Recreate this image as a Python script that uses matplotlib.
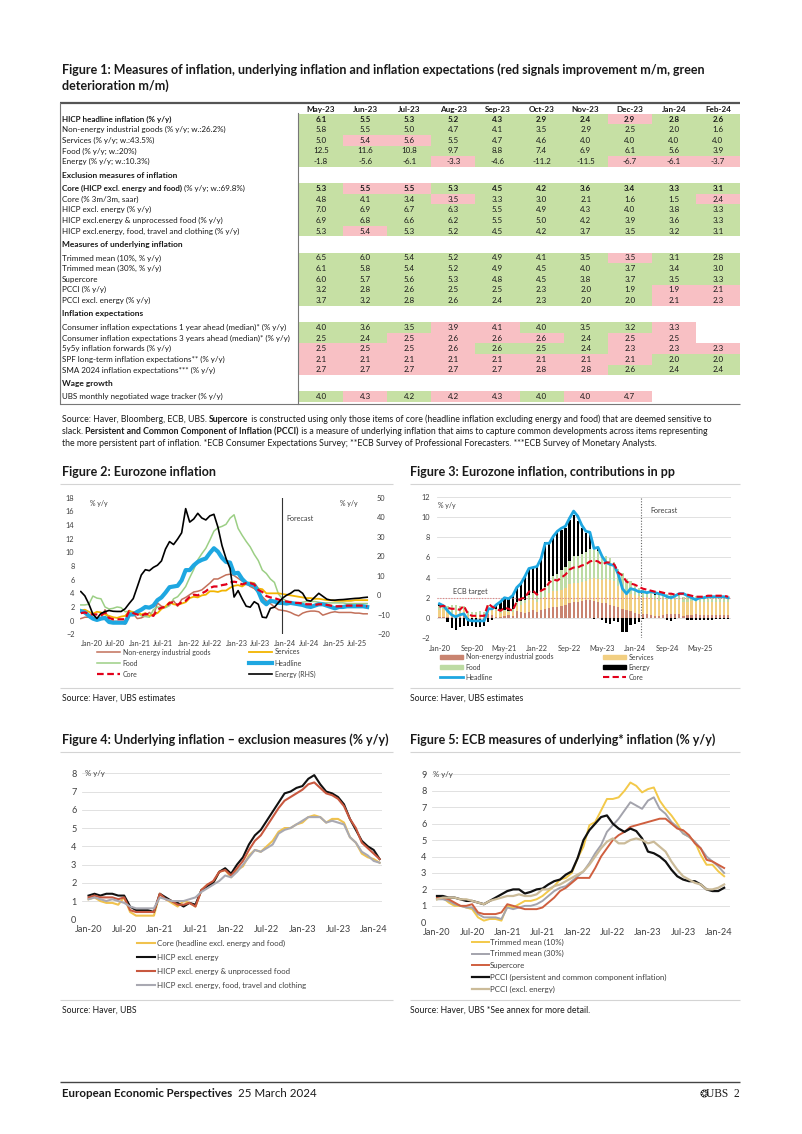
import numpy as np
import matplotlib
matplotlib.use("Agg")
import matplotlib.pyplot as plt
from matplotlib.patches import Rectangle, Patch

plt.rcParams['font.family'] = ['Lato', 'DejaVu Sans']

W, H = 802, 1134

# ---------------- Figure 1: table ----------------
tbl_months = ['May-23', 'Jun-23', 'Jul-23', 'Aug-23', 'Sep-23', 'Oct-23', 'Nov-23', 'Dec-23', 'Jan-24', 'Feb-24']

# (bold part, plain part); rows without values are section headers
tbl_labels = [
    ('HICP headline inflation (% y/y)', ''),
    ('', 'Non-energy industrial goods (% y/y; w.:26.2%)'),
    ('', 'Services (% y/y; w.:43.5%)'),
    ('', 'Food (% y/y; w.:20%)'),
    ('', 'Energy (% y/y; w.:10.3%)'),
    ('Exclusion measures of inflation', ''),
    ('Core (HICP excl. energy and food)', ' (% y/y; w.:69.8%)'),
    ('', 'Core (% 3m/3m, saar)'),
    ('', 'HICP excl. energy (% y/y)'),
    ('', 'HICP excl.energy & unprocessed food (% y/y)'),
    ('', 'HICP excl.energy, food, travel and clothing (% y/y)'),
    ('Measures of underlying inflation', ''),
    ('', 'Trimmed mean (10%, % y/y)'),
    ('', 'Trimmed mean (30%, % y/y)'),
    ('', 'Supercore'),
    ('', 'PCCI (% y/y)'),
    ('', 'PCCI excl. energy (% y/y)'),
    ('Inflation expectations', ''),
    ('', 'Consumer inflation expectations 1 year ahead (median)* (% y/y)'),
    ('', 'Consumer inflation expectations 3 years ahead (median)* (% y/y)'),
    ('', '5y5y inflation forwards (% y/y)'),
    ('', 'SPF long-term inflation expectations** (% y/y)'),
    ('', 'SMA 2024 inflation expectations*** (% y/y)'),
    ('Wage growth', ''),
    ('', 'UBS monthly negotiated wage tracker (% y/y)'),
]

tbl_values = [
    [6.1, 5.5, 5.3, 5.2, 4.3, 2.9, 2.4, 2.9, 2.8, 2.6],
    [5.8, 5.5, 5.0, 4.7, 4.1, 3.5, 2.9, 2.5, 2.0, 1.6],
    [5.0, 5.4, 5.6, 5.5, 4.7, 4.6, 4.0, 4.0, 4.0, 4.0],
    [12.5, 11.6, 10.8, 9.7, 8.8, 7.4, 6.9, 6.1, 5.6, 3.9],
    [-1.8, -5.6, -6.1, -3.3, -4.6, -11.2, -11.5, -6.7, -6.1, -3.7],
    None,
    [5.3, 5.5, 5.5, 5.3, 4.5, 4.2, 3.6, 3.4, 3.3, 3.1],
    [4.8, 4.1, 3.4, 3.5, 3.3, 3.0, 2.1, 1.6, 1.5, 2.4],
    [7.0, 6.9, 6.7, 6.3, 5.5, 4.9, 4.3, 4.0, 3.8, 3.3],
    [6.9, 6.8, 6.6, 6.2, 5.5, 5.0, 4.2, 3.9, 3.6, 3.3],
    [5.3, 5.4, 5.3, 5.2, 4.5, 4.2, 3.7, 3.5, 3.2, 3.1],
    None,
    [6.5, 6.0, 5.4, 5.2, 4.9, 4.1, 3.5, 3.5, 3.1, 2.8],
    [6.1, 5.8, 5.4, 5.2, 4.9, 4.5, 4.0, 3.7, 3.4, 3.0],
    [6.0, 5.7, 5.6, 5.3, 4.8, 4.5, 3.8, 3.7, 3.5, 3.3],
    [3.2, 2.8, 2.6, 2.5, 2.5, 2.3, 2.0, 1.9, 1.9, 2.1],
    [3.7, 3.2, 2.8, 2.6, 2.4, 2.3, 2.0, 2.0, 2.1, 2.3],
    None,
    [4.0, 3.6, 3.5, 3.9, 4.1, 4.0, 3.5, 3.2, 3.3, None],
    [2.5, 2.4, 2.5, 2.6, 2.6, 2.6, 2.4, 2.5, 2.5, None],
    [2.5, 2.5, 2.5, 2.6, 2.6, 2.5, 2.4, 2.3, 2.3, 2.3],
    [2.1, 2.1, 2.1, 2.1, 2.1, 2.1, 2.1, 2.1, 2.0, 2.0],
    [2.7, 2.7, 2.7, 2.7, 2.7, 2.8, 2.8, 2.6, 2.4, 2.4],
    None,
    [4.0, 4.3, 4.2, 4.2, 4.3, 4.0, 4.0, 4.7, None, None],
]

# g = green (deterioration), r = red (improvement), - = no fill
tbl_signal = [
    'gggggggrgg', 'gggggggggg', 'grrggggggg', 'gggggggggg', 'gggrgggrrr', None,
    'grrggggggg', 'gggrgggggr', 'gggggggggg', 'gggggggggg', 'grgggggggg', None,
    'gggggggrgg', 'gggggggggg', 'gggggggggg', 'ggggggggrr', 'ggggggggrr', None,
    'gggrrgggr-', 'ggrrrrgrr-', 'rrrrgggrrr', 'rrrrrrrrgg', 'rrrrrrrggg', None,
    'grgrrgrr--',
]

# ---------------- Figure 2: Eurozone inflation, Jan-20 .. Dec-25 ----------------
f2_ticks = ['Jan-20', 'Jul-20', 'Jan-21', 'Jul-21', 'Jan-22', 'Jul-22', 'Jan-23', 'Jul-23',
            'Jan-24', 'Jul-24', 'Jan-25', 'Jul-25']
f2_neig = [0.3, 0.5, 0.5, 0.3, 0.2, 0.2, 1.6, 0.0, -0.1, -0.1, -0.3, -0.5,
           1.5, 1.0, 0.3, 0.4, 0.7, 1.2, 0.7, 2.6, 2.1, 2.0, 2.4, 2.9,
           2.1, 3.1, 3.4, 3.8, 4.2, 4.3, 4.5, 5.0, 5.5, 6.1, 6.1, 6.4,
           6.7, 6.8, 6.6, 6.2, 5.8, 5.5, 5.0, 4.7, 4.1, 3.5, 2.9, 2.5,
           2.0, 1.6, 1.5, 1.4, 1.2, 0.9, 0.7, 1.1, 1.3, 1.4, 1.4, 1.3,
           0.8, 1.0, 1.2, 1.3, 1.2, 1.2, 1.2, 1.2, 1.1, 1.1, 1.0, 1.0]
f2_services = [1.5, 1.6, 1.3, 1.0, 1.3, 1.2, 0.9, 0.7, 0.5, 0.4, 0.6, 0.7,
               1.4, 1.2, 1.3, 0.9, 1.1, 0.7, 0.9, 1.1, 1.7, 2.1, 2.7, 2.4,
               2.3, 2.5, 2.7, 3.3, 3.5, 3.4, 3.7, 3.8, 4.3, 4.3, 4.2, 4.4,
               4.4, 4.8, 5.1, 5.2, 5.0, 5.4, 5.6, 5.5, 4.7, 4.6, 4.0, 4.0,
               4.0, 4.0, 3.9, 3.8, 3.7, 3.6, 3.5, 3.4, 3.3, 3.3, 3.2, 3.2,
               3.1, 3.0, 3.0, 2.9, 2.9, 2.9, 2.9, 2.9, 3.0, 3.0, 3.0, 3.0]
f2_food = [2.3, 2.3, 2.4, 3.6, 3.3, 3.2, 2.0, 1.7, 1.8, 2.0, 1.9, 1.3,
           1.4, 1.3, 1.1, 0.7, 0.6, 0.5, 1.6, 2.0, 1.9, 1.9, 2.2, 3.2,
           3.5, 4.2, 5.0, 6.3, 7.5, 8.9, 9.8, 10.6, 11.8, 13.1, 13.6, 13.8,
           14.1, 15.0, 15.5, 13.5, 12.5, 11.6, 10.8, 9.7, 8.8, 7.4, 6.9, 6.1,
           5.6, 3.9, 3.2, 2.9, 2.7, 2.5, 2.6, 2.7, 2.8, 2.8, 2.8, 2.7,
           2.6, 2.6, 2.6, 2.6, 2.6, 2.6, 2.5, 2.5, 2.5, 2.5, 2.5, 2.5]
f2_headline = [1.4, 1.2, 0.7, 0.3, 0.1, 0.3, 0.4, -0.2, -0.3, -0.3, -0.3, -0.3,
               0.9, 0.9, 1.3, 1.6, 2.0, 1.9, 2.2, 3.0, 3.4, 4.1, 4.9, 5.0,
               5.1, 5.9, 7.4, 7.4, 8.1, 8.6, 8.9, 9.1, 9.9, 10.6, 10.1, 9.2,
               8.6, 8.5, 6.9, 7.0, 6.1, 5.5, 5.3, 5.2, 4.3, 2.9, 2.4, 2.9,
               2.8, 2.6, 2.6, 2.5, 2.6, 2.5, 2.4, 2.3, 2.1, 2.0, 2.2, 2.4,
               2.4, 2.2, 2.0, 1.8, 2.0, 2.0, 2.1, 2.1, 2.1, 2.1, 2.1, 2.0]
f2_core = [1.1, 1.2, 1.0, 0.9, 0.9, 0.8, 1.2, 0.4, 0.2, 0.2, 0.2, 0.2,
           1.4, 1.1, 0.9, 0.7, 1.0, 0.9, 0.7, 1.6, 1.9, 2.0, 2.6, 2.7,
           2.3, 2.7, 2.9, 3.5, 3.8, 3.7, 4.0, 4.3, 4.8, 5.0, 5.0, 5.2,
           5.3, 5.6, 5.7, 5.6, 5.3, 5.5, 5.5, 5.3, 4.5, 4.2, 3.6, 3.4,
           3.3, 3.1, 2.9, 2.8, 2.7, 2.6, 2.6, 2.5, 2.4, 2.4, 2.3, 2.4,
           2.4, 2.3, 2.2, 2.1, 2.1, 2.1, 2.2, 2.2, 2.2, 2.2, 2.2, 2.1]
f2_energy = [1.9, -0.3, -4.5, -9.7, -11.9, -9.3, -8.4, -7.8, -8.2, -8.3, -8.3, -6.9,
             -4.2, -1.7, 4.3, 10.4, 13.1, 12.6, 14.3, 15.4, 17.6, 23.7, 27.5, 26.0,
             28.8, 32.0, 44.4, 37.5, 39.1, 42.0, 39.6, 38.6, 40.7, 41.5, 34.9, 25.5,
             18.9, 13.7, -0.9, 2.4, -1.8, -5.6, -6.1, -3.3, -4.6, -11.2, -11.5, -6.7,
             -6.1, -3.7, -1.5, 0.0, 1.0, 2.5, 2.5, 1.0, -2.5, -3.0, -1.0, 1.0,
             -0.5, -2.0, -2.5, -2.5, -2.3, -2.2, -2.0, -1.8, -1.6, -1.5, -1.2, -1.0]

# ---------------- Figure 3: contributions in pp, Jan-20 .. Dec-25 ----------------
f3_ticks = ['Jan-20', 'Sep-20', 'May-21', 'Jan-22', 'Sep-22', 'May-23', 'Jan-24', 'Sep-24', 'May-25']
f3_neig = [0.08, 0.13, 0.13, 0.08, 0.05, 0.05, 0.42, 0.00, -0.03, -0.03, -0.08, -0.13,
           0.39, 0.26, 0.08, 0.10, 0.18, 0.31, 0.18, 0.68, 0.55, 0.52, 0.62, 0.75,
           0.55, 0.81, 0.88, 0.99, 1.09, 1.12, 1.17, 1.30, 1.43, 1.59, 1.59, 1.66,
           1.74, 1.77, 1.72, 1.61, 1.51, 1.43, 1.30, 1.22, 1.07, 0.91, 0.75, 0.65,
           0.52, 0.42, 0.39, 0.36, 0.31, 0.23, 0.18, 0.29, 0.34, 0.36, 0.36, 0.34,
           0.21, 0.26, 0.31, 0.34, 0.31, 0.31, 0.31, 0.31, 0.29, 0.29, 0.26, 0.26]
f3_services = [0.66, 0.70, 0.57, 0.44, 0.57, 0.53, 0.40, 0.31, 0.22, 0.18, 0.26, 0.31,
               0.62, 0.53, 0.57, 0.40, 0.48, 0.31, 0.40, 0.48, 0.75, 0.92, 1.19, 1.06,
               1.01, 1.10, 1.19, 1.45, 1.54, 1.50, 1.63, 1.67, 1.89, 1.89, 1.85, 1.94,
               1.94, 2.11, 2.24, 2.29, 2.20, 2.38, 2.46, 2.42, 2.07, 2.02, 1.76, 1.76,
               1.76, 1.76, 1.72, 1.67, 1.63, 1.58, 1.54, 1.50, 1.45, 1.45, 1.41, 1.41,
               1.36, 1.32, 1.32, 1.28, 1.28, 1.28, 1.28, 1.28, 1.32, 1.32, 1.32, 1.32]
f3_food = [0.46, 0.46, 0.48, 0.72, 0.66, 0.64, 0.40, 0.34, 0.36, 0.40, 0.38, 0.26,
           0.28, 0.26, 0.22, 0.14, 0.12, 0.10, 0.32, 0.40, 0.38, 0.38, 0.44, 0.64,
           0.70, 0.84, 1.00, 1.26, 1.50, 1.78, 1.96, 2.12, 2.36, 2.62, 2.72, 2.76,
           2.82, 3.00, 3.10, 2.70, 2.50, 2.32, 2.16, 1.94, 1.76, 1.48, 1.38, 1.22,
           1.12, 0.78, 0.64, 0.58, 0.54, 0.50, 0.52, 0.54, 0.56, 0.56, 0.56, 0.54,
           0.52, 0.52, 0.52, 0.52, 0.52, 0.52, 0.50, 0.50, 0.50, 0.50, 0.50, 0.50]
f3_energy = [0.19, -0.03, -0.45, -0.97, -1.19, -0.93, -0.84, -0.78, -0.82, -0.83, -0.83, -0.69,
             -0.42, -0.17, 0.43, 1.04, 1.31, 1.26, 1.43, 1.54, 1.76, 2.37, 2.75, 2.60,
             2.88, 3.20, 4.44, 3.75, 3.91, 4.20, 3.96, 3.86, 4.07, 4.15, 3.49, 2.55,
             1.89, 1.37, -0.09, 0.24, -0.18, -0.56, -0.61, -0.33, -0.46, -1.40, -1.40, -0.67,
             -0.61, -0.37, -0.15, 0.00, 0.10, 0.25, 0.25, 0.10, -0.25, -0.30, -0.10, 0.10,
             -0.05, -0.20, -0.25, -0.25, -0.23, -0.22, -0.20, -0.18, -0.16, -0.15, -0.12, -0.10]

# ---------------- Figure 4: exclusion measures, Jan-20 .. Feb-24 ----------------
f45_ticks = ['Jan-20', 'Jul-20', 'Jan-21', 'Jul-21', 'Jan-22', 'Jul-22', 'Jan-23', 'Jul-23', 'Jan-24']
f4_core = f2_core[:50]
f4_excl_energy = [1.3, 1.4, 1.3, 1.4, 1.4, 1.3, 1.3, 0.7, 0.5, 0.5, 0.5, 0.4,
                  1.4, 1.2, 1.0, 0.9, 0.7, 0.9, 0.8, 1.6, 1.8, 2.0, 2.6, 2.8,
                  2.5, 3.0, 3.4, 4.1, 4.6, 4.9, 5.4, 5.9, 6.4, 6.9, 7.0, 7.2,
                  7.3, 7.7, 7.9, 7.4, 7.0, 6.9, 6.7, 6.3, 5.5, 4.9, 4.3, 4.0,
                  3.8, 3.3]
f4_excl_unproc = [1.2, 1.3, 1.2, 1.2, 1.2, 1.1, 1.2, 0.5, 0.4, 0.4, 0.4, 0.4,
                  1.4, 1.1, 1.0, 0.8, 0.8, 0.9, 0.7, 1.6, 1.9, 2.1, 2.6, 2.7,
                  2.4, 2.8, 3.2, 3.8, 4.3, 4.6, 5.1, 5.6, 6.1, 6.5, 6.7, 6.9,
                  7.1, 7.4, 7.5, 7.2, 6.9, 6.8, 6.6, 6.2, 5.5, 5.0, 4.2, 3.9,
                  3.6, 3.3]
f4_excl_travel = [1.1, 1.2, 1.1, 1.0, 1.1, 1.0, 0.9, 0.7, 0.6, 0.6, 0.6, 0.6,
                  1.2, 1.1, 1.0, 1.0, 1.0, 1.1, 1.2, 1.5, 1.7, 1.9, 2.1, 2.4,
                  2.3, 2.6, 3.0, 3.4, 3.8, 3.7, 3.9, 4.1, 4.7, 4.9, 5.0, 5.2,
                  5.4, 5.6, 5.6, 5.6, 5.3, 5.4, 5.3, 5.2, 4.5, 4.2, 3.7, 3.5,
                  3.2, 3.1]

# ---------------- Figure 5: ECB underlying measures, Jan-20 .. Feb-24 ----------------
f5_trim10 = [1.4, 1.5, 1.2, 1.0, 1.0, 0.9, 0.8, 0.3, 0.1, 0.2, 0.2, 0.1,
             1.0, 0.9, 1.1, 1.3, 1.3, 1.4, 1.6, 1.9, 2.2, 2.6, 2.7, 3.0,
             3.9, 4.6, 5.9, 6.1, 6.8, 7.5, 7.5, 7.6, 8.0, 8.5, 8.3, 7.9,
             8.1, 8.2, 7.4, 6.9, 6.5, 6.0, 5.4, 5.2, 4.9, 4.1, 3.5, 3.5,
             3.1, 2.8]
f5_trim30 = [1.4, 1.4, 1.3, 1.1, 1.0, 0.9, 0.9, 0.5, 0.3, 0.3, 0.3, 0.2,
             0.9, 0.8, 0.9, 1.0, 1.0, 1.1, 1.3, 1.6, 1.9, 2.1, 2.2, 2.5,
             2.8, 3.1, 3.6, 4.2, 4.7, 5.5, 5.9, 6.3, 6.8, 7.3, 7.1, 6.9,
             7.4, 7.6, 6.9, 6.6, 6.1, 5.8, 5.4, 5.2, 4.9, 4.5, 4.0, 3.7,
             3.4, 3.0]
f5_supercore = [1.5, 1.5, 1.4, 1.2, 1.0, 1.0, 1.1, 0.6, 0.5, 0.5, 0.5, 0.6,
                1.1, 1.0, 0.9, 0.8, 0.8, 0.8, 0.9, 1.2, 1.5, 1.9, 2.1, 2.4,
                2.7, 2.7, 2.7, 3.3, 4.0, 4.5, 5.0, 5.3, 5.5, 5.8, 5.9, 6.0,
                6.1, 6.2, 6.3, 6.3, 6.0, 5.7, 5.6, 5.3, 4.8, 4.5, 3.8, 3.7,
                3.5, 3.3]
f5_pcci = [1.6, 1.6, 1.5, 1.5, 1.4, 1.3, 1.3, 1.2, 1.1, 1.3, 1.5, 1.7,
           1.9, 2.0, 2.0, 1.75, 1.85, 2.0, 2.05, 2.3, 2.5, 2.6, 2.9, 3.1,
           3.9, 5.0, 5.6, 6.0, 6.4, 6.5, 6.0, 5.7, 5.5, 5.7, 5.55, 5.1,
           4.3, 4.2, 4.0, 3.7, 3.2, 2.8, 2.6, 2.5, 2.5, 2.3, 2.0, 1.9,
           1.9, 2.1]
f5_pcci_xe = [1.4, 1.5, 1.5, 1.5, 1.4, 1.4, 1.3, 1.2, 1.1, 1.3, 1.4, 1.5,
              1.6, 1.6, 1.7, 1.6, 1.6, 1.7, 2.0, 2.0, 2.2, 2.3, 2.5, 2.7,
              2.9, 3.1, 3.5, 4.0, 4.5, 4.9, 5.1, 4.8, 4.8, 5.0, 5.1, 5.0,
              4.8, 4.9, 4.6, 4.3, 3.7, 3.2, 2.8, 2.6, 2.4, 2.3, 2.0, 2.0,
              2.1, 2.3]

GREEN, RED = '#c6e0a4', '#f8c0c4'
TXT = '#1a1a1a'
TICK = '#404040'


def frac(l, t, r, b):
    return [l / W, 1 - b / H, (r - l) / W, (b - t) / H]


fig = plt.figure(figsize=(W / 100, H / 100), dpi=100)
page = fig.add_axes([0, 0, 1, 1])
page.set_xlim(0, W)
page.set_ylim(H, 0)
page.axis('off')


def rich(x, y, parts, size, **kw):
    # chain text segments (text, bold) on one line
    prev = None
    for s, b in parts:
        if not s:
            continue
        w = 'bold' if b else 'normal'
        if prev is None:
            prev = page.text(x, y, s, fontsize=size, fontweight=w, color=TXT,
                             va='bottom', ha='left', **kw)
        else:
            prev = page.annotate(s, xy=(1, 0), xycoords=prev, fontsize=size, fontweight=w,
                                 color=TXT, va='bottom', ha='left', **kw)
    return prev


def hline(y, x0, x1, color='#d4d4d4', lw=0.8):
    page.plot([x0, x1], [y, y], color=color, lw=lw, solid_capstyle='butt')


# ----- Figure 1 title -----
page.text(62, 70, 'Figure 1: Measures of inflation, underlying inflation and inflation expectations '
          '(red signals improvement m/m, green', fontsize=9.0, fontweight='bold', color=TXT, va='center')
page.text(62, 86, 'deterioration m/m)', fontsize=9.0, fontweight='bold', color=TXT, va='center')

# ----- table -----
x0, cw = 299.0, 44.1
row_h, sec_h = 10.65, 16.2
hline(103, 60, 740, color='#555555', lw=1.6)
for j, mth in enumerate(tbl_months):
    page.text(x0 + (j + 0.5) * cw, 109.5, mth, fontsize=5.9, fontweight='bold',
              color=TXT, ha='center', va='center')

y = 113.7
for lab, vals, sig in zip(tbl_labels, tbl_values, tbl_signal):
    if vals is None:
        yc = y + sec_h / 2
        page.text(62, yc, lab[0], fontsize=6.0, fontweight='bold', color=TXT, va='center')
        y += sec_h
        continue
    yc = y + row_h / 2
    for j, v in enumerate(vals):
        c = {'g': GREEN, 'r': RED}.get(sig[j])
        if c:
            page.add_patch(Rectangle((x0 + j * cw, y), cw, row_h, facecolor=c, edgecolor='none'))
        if v is not None:
            page.text(x0 + (j + 0.5) * cw, yc, f'{v:.1f}', fontsize=5.8,
                      fontweight='bold' if lab[0] else 'normal', color=TXT, ha='center', va='center')
    parts = [(lab[0], True), (lab[1], False)]
    rich(62, yc + 3.6, parts, 5.8)
    y += row_h

page.plot([60, 60], [103, y + 1.5], color='#777777', lw=0.8)
page.plot([298, 298], [113, y + 1.5], color='#777777', lw=0.8)
hline(y + 1.5, 60, 740, color='#777777', lw=0.8)

# ----- source note -----
note_lines = [
    [('Source: Haver, Bloomberg, ECB, UBS. ', False), ('Supercore', True),
     (' is constructed using only those items of core (headline inflation excluding energy and food) '
      'that are deemed sensitive to', False)],
    [('slack. ', False), ('Persistent and Common Component of Inflation (PCCI)', True),
     (' is a measure of underlying inflation that aims to capture common developments across items '
      'representing', False)],
    [('the more persistent part of inflation. *ECB Consumer Expectations Survey; **ECB Survey of '
      'Professional Forecasters. ***ECB Survey of Monetary Analysts.', False)],
]
for k, parts in enumerate(note_lines):
    rich(62, 424.5 + k * 12, parts, 6.35)

# ----- chart titles, separators, sources -----
titles = [(62, 472, 'Figure 2: Eurozone inflation'),
          (410, 472, 'Figure 3: Eurozone inflation, contributions in pp'),
          (62, 740, 'Figure 4: Underlying inflation \u2013 exclusion measures (% y/y)'),
          (410, 740, 'Figure 5: ECB measures of underlying* inflation (% y/y)')]
for tx, ty, t in titles:
    page.text(tx, ty, t, fontsize=9.0, fontweight='bold', color=TXT, va='center')
for yy in (484, 688, 752, 1000):
    hline(yy, 60, 393)
    hline(yy, 410, 740)
sources = [(62, 698, 'Source: Haver, UBS estimates'), (410, 698, 'Source: Haver, UBS estimates'),
           (62, 1010, 'Source: Haver, UBS'), (410, 1010, 'Source: Haver, UBS *See annex for more detail.')]
for sx, sy, s in sources:
    page.text(sx, sy, s, fontsize=6.2, color=TXT, va='center')

# ----- footer -----
hline(1082, 60, 740, color='#444444', lw=1.0)
rich(62, 1099, [('European Economic Perspectives', True), ('  25 March 2024', False)], 8.3)
page.text(740, 1094, 'UBS  2', fontsize=8.3, color=TXT, va='center', ha='right', family='Liberation Serif')
page.text(708, 1094, '\u2742', fontsize=7.5, color=TXT, va='center', ha='right', family='DejaVu Sans')


def clean(ax):
    for sp in ax.spines.values():
        sp.set_visible(False)


# ---------------- Figure 2 ----------------
m72 = np.arange(72)
C_NEIG, C_SERV, C_FOOD, C_HEAD, C_CORE = '#c2705a', '#f2b400', '#9ccf85', '#1ea7e1', '#e2001a'
ax2 = fig.add_axes(frac(80, 497.7, 370, 634.3))
h_neig, = ax2.plot(m72, f2_neig, color=C_NEIG, lw=1.1)
h_food, = ax2.plot(m72, f2_food, color=C_FOOD, lw=1.1)
h_serv, = ax2.plot(m72, f2_services, color=C_SERV, lw=1.3)
h_head, = ax2.plot(m72, f2_headline, color=C_HEAD, lw=3.0)
h_core, = ax2.plot(m72, f2_core, color=C_CORE, lw=1.6, dashes=(3, 1.6))
ax2.set_xlim(-0.2, 71.7)
ax2.set_ylim(-2, 18)
ax2.set_yticks(np.arange(-2, 19, 2))
ax2.set_xticks(m72[::6])
ax2.set_xticklabels(f2_ticks, ha='left')
ax2.tick_params(length=0, labelsize=5.3, colors=TICK, pad=4)
ax2r = ax2.twinx()
h_en, = ax2r.plot(m72, f2_energy, color='black', lw=1.2)
ax2r.set_ylim(-20, 50)
ax2r.set_yticks(np.arange(-20, 51, 10))
ax2r.tick_params(length=0, labelsize=5.3, colors=TICK, pad=5)
ax2.axvline(50, color='#333333', lw=0.8)
clean(ax2)
clean(ax2r)
ax2.text(2.2, 17.1, '% y/y', fontsize=5, color=TICK, va='center')
ax2.text(64.3, 17.1, '% y/y', fontsize=5, color=TICK, va='center')
ax2.text(51.0, 15.0, 'Forecast', fontsize=5.2, color=TICK, va='center')

leg_kw = dict(loc='upper left', bbox_transform=fig.transFigure, frameon=False, fontsize=5,
              borderpad=0, borderaxespad=0, handletextpad=0.4, labelspacing=0.6, labelcolor=TICK)
fig.legend([h_neig, h_food, h_core], ['Non-energy industrial goods', 'Food', 'Core'],
           bbox_to_anchor=(97 / W, 1 - 648.5 / H), handlelength=3.3, **leg_kw)
fig.legend([h_serv, h_head, h_en], ['Services', 'Headline', 'Energy (RHS)'],
           bbox_to_anchor=(249 / W, 1 - 648.5 / H), handlelength=3.3, **leg_kw)

# ---------------- Figure 3 ----------------
ax3 = fig.add_axes(frac(437, 497, 731, 638))
ax3.set_axisbelow(True)
ax3.grid(axis='y', color='#dcdcdc', lw=0.6)
pos = np.zeros(72)
neg = np.zeros(72)
C3 = {'neig': '#c98470', 'serv': '#f2cf82', 'food': '#bddba3', 'en': '#000000'}
for vals, col in ((f3_neig, C3['neig']), (f3_services, C3['serv']), (f3_food, C3['food']), (f3_energy, C3['en'])):
    v = np.array(vals)
    base = np.where(v >= 0, pos, neg)
    ax3.bar(m72, v, bottom=base, width=0.55, color=col, linewidth=0)
    pos += np.clip(v, 0, None)
    neg += np.clip(v, None, 0)
ax3.axhline(2, color='#e08080', lw=0.8, ls=(0, (1, 1.5)))
ax3.axvline(49.5, color='#666666', lw=0.8, ls=(0, (1, 1.5)))
l3_head, = ax3.plot(m72, f2_headline, color=C_HEAD, lw=2.0)
l3_core, = ax3.plot(m72, f2_core, color=C_CORE, lw=1.5, dashes=(3, 1.6))
ax3.set_xlim(-0.6, 71.7)
ax3.set_ylim(-2, 12)
ax3.set_yticks(np.arange(-2, 13, 2))
ax3.set_xticks(m72[::8])
ax3.set_xticklabels(f3_ticks)
ax3.tick_params(length=0, labelsize=5.3, colors=TICK, pad=5)
clean(ax3)
ax3.text(-0.4, 11.2, '% y/y', fontsize=5, color=TICK, va='center')
ax3.text(51.8, 10.7, 'Forecast', fontsize=5.2, color=TICK, va='center')
ax3.text(3.4, 2.6, 'ECB target', fontsize=5.2, color=TICK, va='center')
fig.legend([Patch(color=C3['neig']), Patch(color=C3['food']), l3_head],
           ['Non-energy industrial goods', 'Food', 'Headline'],
           bbox_to_anchor=(440 / W, 1 - 653.5 / H), handlelength=3.3, handleheight=0.6,
           **dict(leg_kw, labelspacing=0.45))
fig.legend([Patch(color=C3['serv']), Patch(color=C3['en']), l3_core],
           ['Services', 'Energy', 'Core'],
           bbox_to_anchor=(603 / W, 1 - 653.5 / H), handlelength=3.3, handleheight=0.6,
           **dict(leg_kw, labelspacing=0.45))

# ---------------- Figure 4 ----------------
m50 = np.arange(50)
ax4 = fig.add_axes(frac(82, 773.3, 382, 919.3))
ax4.set_axisbelow(True)
ax4.grid(axis='y', color='#dcdcdc', lw=0.6)
l4 = [ax4.plot(m50, f4_core, color='#f0c24e', lw=1.5)[0],
      ax4.plot(m50, f4_excl_energy, color='#111111', lw=1.5)[0],
      ax4.plot(m50, f4_excl_unproc, color='#c8583f', lw=1.5)[0],
      ax4.plot(m50, f4_excl_travel, color='#a9a9b2', lw=1.5)[0]]
ax4.set_xlim(-1.1, 49.4)
ax4.set_ylim(0, 8)
ax4.set_yticks(np.arange(0, 9))
ax4.set_xticks(m50[::6])
ax4.set_xticklabels(f45_ticks)
ax4.tick_params(length=0, labelsize=6.6, colors=TICK, pad=4)
clean(ax4)
ax4.text(-0.6, 8, '% y/y', fontsize=5.6, color=TICK, va='center')
leg4 = dict(leg_kw, fontsize=5.7, handletextpad=0.2)
fig.legend(l4, ['Core (headline excl. energy and food)', 'HICP excl. energy',
                'HICP excl. energy & unprocessed food', 'HICP excl. energy, food, travel and clothing'],
           bbox_to_anchor=(137 / W, 1 - 939.5 / H), handlelength=2.3, **dict(leg4, labelspacing=0.9))

# ---------------- Figure 5 ----------------
ax5 = fig.add_axes(frac(432, 774.3, 730, 922.3))
ax5.set_axisbelow(True)
ax5.grid(axis='y', color='#dcdcdc', lw=0.6)
l5 = [ax5.plot(m50, f5_trim10, color='#f3c94a', lw=1.4)[0],
      ax5.plot(m50, f5_trim30, color='#a3a3ac', lw=1.4)[0],
      ax5.plot(m50, f5_supercore, color='#cf5f3f', lw=1.4)[0],
      ax5.plot(m50, f5_pcci, color='#111111', lw=1.6)[0],
      ax5.plot(m50, f5_pcci_xe, color='#cbbb99', lw=1.6)[0]]
ax5.set_xlim(-0.85, 50.0)
ax5.set_ylim(0, 9)
ax5.set_yticks(np.arange(0, 10))
ax5.set_xticks(m50[::6])
ax5.set_xticklabels(f45_ticks)
ax5.tick_params(length=0, labelsize=6.6, colors=TICK, pad=4)
clean(ax5)
ax5.text(-0.7, 9, '% y/y', fontsize=5.6, color=TICK, va='center')
fig.legend(l5, ['Trimmed mean (10%)', 'Trimmed mean (30%)', 'Supercore',
                'PCCI (persistent and common component inflation)', 'PCCI (excl. energy)'],
           bbox_to_anchor=(472 / W, 1 - 938.5 / H), handlelength=2.1, **dict(leg4, labelspacing=0.58))

fig.savefig('out.png', dpi=100)
